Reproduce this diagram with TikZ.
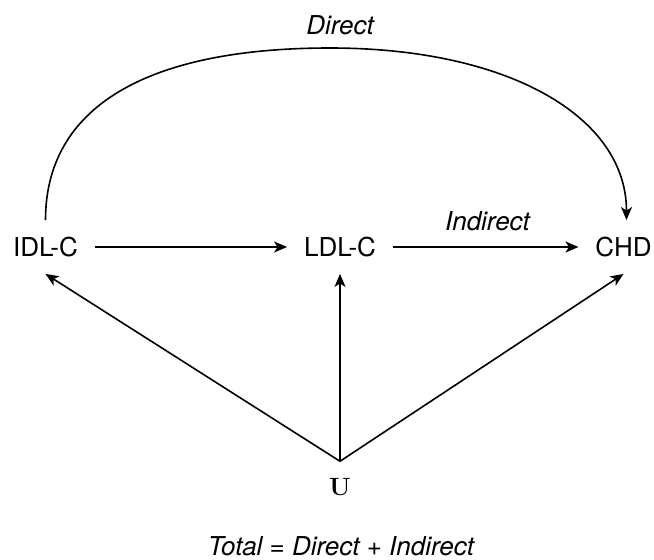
\documentclass[tikz,border=0pt]{standalone}
\usepackage{fontspec}
\setsansfont{TeX Gyre Heros}
\usetikzlibrary{arrows.meta}
\begin{document}
\begin{tikzpicture}[x=1pt,y=-1pt,
  lbl/.style={font=\sffamily\fontsize{26}{30}\selectfont, inner sep=17pt, outer sep=0pt},
  elbl/.style={font=\sffamily\itshape\fontsize{26}{30}\selectfont, inner sep=0pt},
  conn/.style={line width=1.6pt, -{Stealth[length=13pt,width=11pt,inset=3.5pt]}},
]
\useasboundingbox (0,0) rectangle (654,560);
\node[lbl] (idl) at (45.5,247) {IDL-C};
\node[lbl] (ldl) at (340,247) {LDL-C};
\node[lbl] (chd) at (623.5,247) {CHD};
\node[font=\fontsize{25}{30}\selectfont\bfseries, inner sep=17pt, outer sep=0pt] (u) at (340,487) {U};
\node[elbl] (direct) at (340,25) {Direct};
\node[elbl] (indirect) at (487.5,221) {Indirect};
\node[elbl] (total) at (341,546.5) {Total = Direct + Indirect};

\draw[conn] (idl) -- (ldl);
\draw[conn] (ldl) -- (chd);
\draw[conn] (u.north) -- (idl.south);
\draw[conn] (u.north) -- (ldl.south);
\draw[conn] (u.north) -- (chd.south);
\draw[conn] (idl.north) .. controls (45.5,108) and (145,48) .. (330,48)
  .. controls (509,48) and ([xshift=3pt]chd.north |- 0,117) .. ([xshift=3pt]chd.north);
\end{tikzpicture}
\end{document}
